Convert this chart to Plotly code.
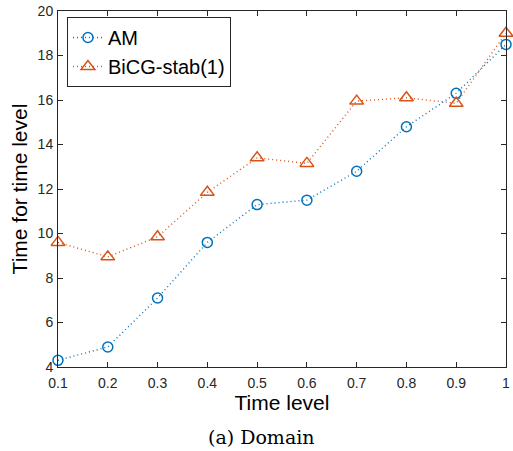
import plotly.graph_objects as go

x_levels = [0.1, 0.2, 0.3, 0.4, 0.5, 0.6, 0.7, 0.8, 0.9, 1.0]
am_times = [4.3, 4.9, 7.1, 9.6, 11.3, 11.5, 12.8, 14.8, 16.3, 18.5]
bicg_times = [9.6, 8.95, 9.85, 11.85, 13.4, 13.15, 15.95, 16.1, 15.85, 19.0]
x_tick_vals = [0.1, 0.2, 0.3, 0.4, 0.5, 0.6, 0.7, 0.8, 0.9, 1.0]
x_tick_text = ["0.1", "0.2", "0.3", "0.4", "0.5", "0.6", "0.7", "0.8", "0.9", "1"]
y_tick_vals = [4, 6, 8, 10, 12, 14, 16, 18, 20]

blue = "#0072BD"
orange = "#D95319"
axis_col = "#262626"

fig = go.Figure()
fig.add_trace(go.Scatter(
    x=x_levels, y=am_times, name="AM", mode="lines+markers",
    line=dict(color=blue, dash="1px,3px", width=1.4),
    marker=dict(symbol="circle-open", size=10, color=blue, line=dict(width=1.5, color=blue)),
    cliponaxis=False,
))
fig.add_trace(go.Scatter(
    x=x_levels, y=bicg_times, name="BiCG-stab(1)", mode="lines+markers",
    line=dict(color=orange, dash="1px,3px", width=1.4),
    marker=dict(symbol="triangle-up-open", size=12, color=orange, line=dict(width=1.5, color=orange)),
    cliponaxis=False,
))

fig.update_layout(
    width=513, height=451,
    margin=dict(l=58, r=3, t=11, b=84),
    paper_bgcolor="white", plot_bgcolor="white",
    font=dict(family="Liberation Sans, Arial, sans-serif", color=axis_col),
    showlegend=True,
    legend=dict(
        x=0.02, y=0.983, xanchor="left", yanchor="top",
        bordercolor=axis_col, borderwidth=1, bgcolor="white",
        font=dict(size=20, color="black"), tracegroupgap=0,
        itemwidth=30,
    ),
    xaxis=dict(
        range=[0.1, 1.0], tickvals=x_tick_vals, ticktext=x_tick_text,
        ticks="inside", ticklen=5, tickcolor=axis_col, showline=True,
        linecolor=axis_col, linewidth=1, mirror="ticks", showgrid=False, zeroline=False,
        tickfont=dict(size=14, color=axis_col), ticklabeloverflow="allow",
        ticklabelstandoff=3,
        title=dict(text="Time level", font=dict(size=21, color="black"), standoff=0),
    ),
    yaxis=dict(
        range=[4, 20], tickvals=y_tick_vals,
        ticks="inside", ticklen=5, tickcolor=axis_col, showline=True,
        linecolor=axis_col, linewidth=1, mirror="ticks", showgrid=False, zeroline=False,
        tickfont=dict(size=14, color=axis_col), ticklabeloverflow="allow",
        ticklabelstandoff=1,
        title=dict(text="Time for time level", font=dict(size=21, color="black"), standoff=4),
    ),
    annotations=[dict(
        text="(a) Domain", xref="paper", yref="paper", x=0.4535, y=-0.16,
        xanchor="center", yanchor="top", showarrow=False,
        font=dict(family="DejaVu Serif, Liberation Serif, serif", size=19, color="black"),
    )],
)

fig.write_html("out.html")
